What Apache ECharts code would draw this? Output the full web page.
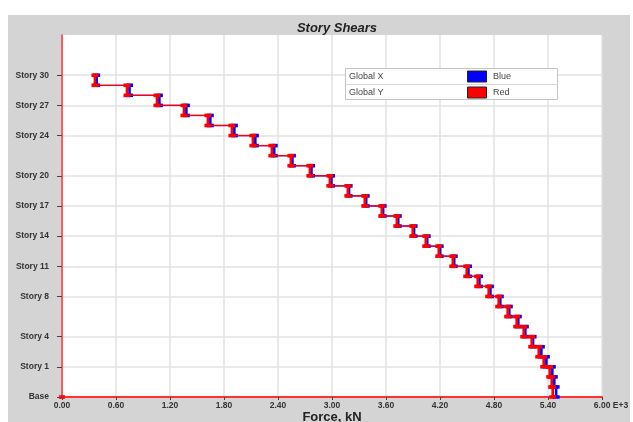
<!DOCTYPE html>
<html><head><meta charset="utf-8">
<script src="https://cdn.jsdelivr.net/npm/echarts@6/dist/echarts.min.js"></script>
<style>html,body{margin:0;padding:0;background:#fff}#c{width:633px;height:422px}</style>
</head><body><div id="c"></div>
<script>
// ---- data ----
const storyNames  = ['Base','Story 1','Story 4','Story 8','Story 11','Story 14','Story 17','Story 20','Story 24','Story 27','Story 30'];
const storyLevels = [0, 3, 6, 10, 13, 16, 19, 22, 26, 29, 32];
const topLevel = 32;
const xTickLabels = ['0.00','0.60','1.20','1.80','2.40','3.00','3.60','4.20','4.80','5.40','6.00 E+3'];
// story shear, kN, from roof (Story 30) down to base
const shearGlobalY = [366,722,1055,1355,1621,1888,2121,2332,2543,2754,2976,3176,3364,3553,3720,3897,4042,4186,4342,4497,4619,4741,4852,4952,5052,5130,5219,5297,5352,5419,5441,5452];
const shearGlobalX = [385,750,1082,1382,1648,1915,2148,2358,2560,2772,2994,3190,3380,3568,3736,3912,4058,4202,4358,4516,4638,4760,4870,4970,5070,5148,5234,5326,5382,5448,5470,5490];
const baseShear = [0];
const legendNames = ['Global X','Global Y'];
const legendColorNames = ['Blue','Red'];
const seriesColors = ['#0000ff','#ff0000'];

// ---- chart ----
const FONT = 'Liberation Sans, Arial, sans-serif';
function segments(vals){
  return vals.map((v,i)=>[v, topLevel - i, topLevel - i - 1, i < vals.length-1 ? vals[i+1] : v]);
}
function makeRender(color){
  return function(params, api){
    const v = api.value(0), t = api.value(1), b = api.value(2), n = api.value(3);
    const p1 = api.coord([v,t]), p2 = api.coord([v,b]);
    const ch = [];
    if (params.dataIndex < params.dataInsideLength - 1) {
      const p3 = api.coord([n,b]);
      ch.push({type:'line', shape:{x1:p2[0],y1:p2[1],x2:p3[0],y2:p3[1]}, style:{stroke:color, lineWidth:1.3}});
    }
    ch.push({type:'line', shape:{x1:p1[0],y1:p1[1],x2:p2[0],y2:p2[1]}, style:{stroke:color, lineWidth:2.6}});
    ch.push({type:'rect', shape:{x:p1[0]-3.5,y:p1[1]-1.8,width:7,height:3.6}, style:{fill:color}});
    ch.push({type:'rect', shape:{x:p2[0]-3.5,y:p2[1]-1.8,width:7,height:3.6}, style:{fill:color}});
    return {type:'group', children:ch};
  };
}

const legendGraphics = [
  {type:'rect', z:100, shape:{x:345.5,y:68.5,width:212,height:31}, style:{fill:'#fff', stroke:'#c4c4c4', lineWidth:1}},
  {type:'line', z:101, shape:{x1:345.5,y1:84.5,x2:557.5,y2:84.5}, style:{stroke:'#d8d8d8', lineWidth:1}}
];
legendNames.forEach((nm,i)=>{
  const cy = 76.5 + i*16;
  legendGraphics.push({type:'text', z:102, x:349, y:cy, style:{text:nm, fill:'#444', font:'9px '+FONT, verticalAlign:'middle'}});
  legendGraphics.push({type:'rect', z:102, shape:{x:467.5,y:cy-5.5,width:19,height:11}, style:{fill:seriesColors[i], stroke:'#222', lineWidth:1}});
  legendGraphics.push({type:'text', z:102, x:493, y:cy, style:{text:legendColorNames[i], fill:'#444', font:'9px '+FONT, verticalAlign:'middle'}});
});

const chart = echarts.init(document.getElementById('c'), null, {renderer:'canvas'});
chart.setOption({
  animation:false,
  backgroundColor:'#fff',
  title:{text:'Story Shears', left:332, top:17, textAlign:'center',
    textStyle:{fontSize:13, fontWeight:'bold', fontStyle:'italic', color:'#222', fontFamily:FONT}},
  graphic:[
    {type:'rect', z:-10, shape:{x:8,y:15,width:622,height:410}, style:{fill:'#d4d4d4'}},
    {type:'group', z:100, children:legendGraphics}
  ],
  grid:{left:62, right:31, top:35, bottom:25, show:true, backgroundColor:'#fff', borderWidth:0,
    containLabel:false, outerBoundsMode:'none'},
  xAxis:{type:'value', min:0, max:6000, interval:600,
    name:'Force, kN', nameLocation:'middle', nameGap:14, nameMoveOverlap:false,
    nameTextStyle:{fontSize:13, fontWeight:'bold', color:'#222', fontFamily:FONT},
    axisLine:{show:true, onZero:false, lineStyle:{color:'#ff3030', width:2}},
    axisTick:{show:true, length:3, lineStyle:{color:'#444'}},
    axisLabel:{margin:4, fontSize:8.5, fontWeight:'bold', color:'#333', fontFamily:FONT,
      formatter:(v)=>{const i=Math.round(v/600); const s=xTickLabels[i]; return i===xTickLabels.length-1 ? '{e|'+s+'}' : s;},
      rich:{e:{padding:[0,0,0,18], fontSize:8.5, fontWeight:'bold', color:'#333', fontFamily:FONT}}},
    splitLine:{show:true, lineStyle:{color:'#e2e2e2', width:1.5}}
  },
  yAxis:{type:'value', min:0, max:36,
    axisLine:{show:true, onZero:false, lineStyle:{color:'#ff3030', width:1.5}},
    axisTick:{show:true, customValues:storyLevels, length:5, lineStyle:{color:'#444'}},
    axisLabel:{customValues:storyLevels, margin:13, fontSize:8.5, fontWeight:'bold', color:'#333', fontFamily:FONT,
      formatter:(v)=>{const i=storyLevels.indexOf(v); return i>=0 ? storyNames[i] : '';}},
    splitLine:{show:true, lineStyle:{color:'#e2e2e2', width:1.5}}
  },
  series:[
    {type:'custom', name:legendNames[0], renderItem:makeRender(seriesColors[0]), data:segments(shearGlobalX),
      encode:{x:[0,3], y:[1,2]}, clip:false, z:3},
    {type:'custom', name:legendNames[1], renderItem:makeRender(seriesColors[1]), data:segments(shearGlobalY),
      encode:{x:[0,3], y:[1,2]}, clip:false, z:4},
    {type:'scatter', data:baseShear.map(v=>[v,0]), symbol:'rect', symbolSize:[6,4],
      itemStyle:{color:seriesColors[1]}, z:5}
  ]
});
</script></body></html>
